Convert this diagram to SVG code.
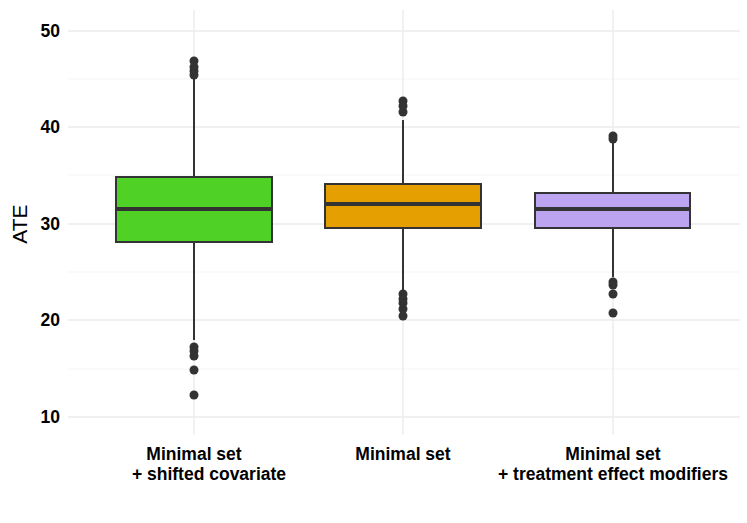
<svg xmlns="http://www.w3.org/2000/svg" width="747" height="523" viewBox="0 0 747 523">
<style>
.gmaj{stroke:#ebebeb;stroke-width:1.4}
.gmin{stroke:#f3f3f3;stroke-width:0.8}
.box{stroke:#333;stroke-width:2}
.w{stroke:#333;stroke-width:2}
.med{stroke:#333;stroke-width:4}
.o{fill:#333}
.t{font-family:"Liberation Sans",Arial,sans-serif;font-weight:bold;font-size:17.5px;fill:#000}
</style>
<rect width="747" height="523" fill="#fff"/>
<g id="grid">
<line class="gmin" x1="68" y1="79" x2="740" y2="79"/>
<line class="gmin" x1="68" y1="175" x2="740" y2="175"/>
<line class="gmin" x1="68" y1="272" x2="740" y2="272"/>
<line class="gmin" x1="68" y1="369" x2="740" y2="369"/>
<line class="gmaj" x1="68" y1="31" x2="740" y2="31"/>
<line class="gmaj" x1="68" y1="127" x2="740" y2="127"/>
<line class="gmaj" x1="68" y1="224" x2="740" y2="224"/>
<line class="gmaj" x1="68" y1="320" x2="740" y2="320"/>
<line class="gmaj" x1="68" y1="417" x2="740" y2="417"/>
<line class="gmaj" x1="194" y1="10" x2="194" y2="435"/>
<line class="gmaj" x1="403" y1="10" x2="403" y2="435"/>
<line class="gmaj" x1="613" y1="10" x2="613" y2="435"/>
</g>
<g id="axis">
<text class="t" x="60" y="37" text-anchor="end">50</text>
<text class="t" x="60" y="133" text-anchor="end">40</text>
<text class="t" x="60" y="230" text-anchor="end">30</text>
<text class="t" x="60" y="326" text-anchor="end">20</text>
<text class="t" x="60" y="423" text-anchor="end">10</text>
<text x="27" y="224" transform="rotate(-90 27 224)" text-anchor="middle" style="font-family:'Liberation Sans',Arial,sans-serif;font-size:21px">ATE</text>
<text class="t" x="194" y="460" text-anchor="middle">Minimal set</text>
<text class="t" x="209" y="480" text-anchor="middle">+ shifted covariate</text>
<text class="t" x="403" y="460" text-anchor="middle">Minimal set</text>
<text class="t" x="613" y="460" text-anchor="middle">Minimal set</text>
<text class="t" x="613" y="480" text-anchor="middle">+ treatment effect modifiers</text>
</g>
<g id="box1">
<line class="w" x1="194" y1="77" x2="194" y2="340"/>
<rect class="box" x="116" y="177" width="156" height="65" fill="#4fd225"/>
<line class="med" x1="116" y1="209" x2="272" y2="209"/>
<circle class="o" cx="194" cy="61" r="4.5"/><circle class="o" cx="194" cy="67" r="4.5"/><circle class="o" cx="194" cy="71" r="4.5"/><circle class="o" cx="194" cy="75" r="4.5"/>
<circle class="o" cx="194" cy="347" r="4.5"/><circle class="o" cx="194" cy="351" r="4.5"/><circle class="o" cx="194" cy="356" r="4.5"/><circle class="o" cx="194" cy="370" r="4.5"/><circle class="o" cx="194" cy="395" r="4.5"/>
</g>
<g id="box2">
<line class="w" x1="403" y1="120" x2="403" y2="290"/>
<rect class="box" x="325" y="184" width="156" height="44" fill="#e69f00"/>
<line class="med" x1="325" y1="204" x2="481" y2="204"/>
<circle class="o" cx="403" cy="101" r="4.5"/><circle class="o" cx="403" cy="106" r="4.5"/><circle class="o" cx="403" cy="112" r="4.5"/>
<circle class="o" cx="403" cy="294" r="4.5"/><circle class="o" cx="403" cy="299" r="4.5"/><circle class="o" cx="403" cy="303" r="4.5"/><circle class="o" cx="403" cy="309" r="4.5"/><circle class="o" cx="403" cy="316" r="4.5"/>
</g>
<g id="box3">
<line class="w" x1="613" y1="142" x2="613" y2="277"/>
<rect class="box" x="535" y="193" width="155" height="35" fill="#bca4f0"/>
<line class="med" x1="535" y1="209" x2="690" y2="209"/>
<circle class="o" cx="613" cy="136" r="4.5"/><circle class="o" cx="613" cy="139" r="4.5"/>
<circle class="o" cx="613" cy="282" r="4.5"/><circle class="o" cx="613" cy="285" r="4.5"/><circle class="o" cx="613" cy="294" r="4.5"/><circle class="o" cx="613" cy="313" r="4.5"/>
</g>
</svg>
